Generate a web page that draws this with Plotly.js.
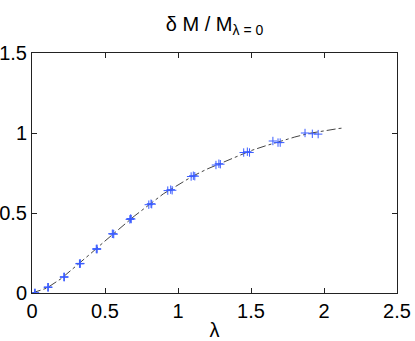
<!DOCTYPE html>
<html>
<head>
<meta charset="utf-8">
<script src="https://cdn.plot.ly/plotly-3.0.1.min.js"></script>
<style>html,body{margin:0;padding:0;background:#fff;}#chart{width:415px;height:341px;}</style>
</head>
<body>
<div id="chart"></div>
<script>
// Fitted curve (dash-dot)
const curveX = [0, 0.1, 0.2, 0.3, 0.4, 0.5, 0.6, 0.7, 0.8, 0.9, 1.0, 1.1, 1.2, 1.3, 1.4, 1.5, 1.6, 1.7, 1.8, 1.9, 2.0, 2.1, 2.14];
const curveY = [0, 0.03, 0.09, 0.165, 0.245, 0.325, 0.405, 0.48, 0.55, 0.62, 0.675, 0.73, 0.775, 0.815, 0.855, 0.89, 0.92, 0.948, 0.975, 0.998, 1.015, 1.028, 1.032];

// Data sets (blue + markers)
const set1X = [0.02, 0.11, 0.22, 0.325, 0.44, 0.55, 0.67, 0.80, 0.93, 1.09, 1.26, 1.45, 1.65, 1.87];
const set1Y = [0.0, 0.036, 0.10, 0.183, 0.275, 0.37, 0.46, 0.552, 0.64, 0.728, 0.80, 0.878, 0.95, 1.0];
const set2X = [0.02, 0.11, 0.22, 0.33, 0.445, 0.555, 0.675, 0.815, 0.95, 1.105, 1.28, 1.475, 1.685, 1.92];
const set2Y = [0.0, 0.036, 0.10, 0.185, 0.277, 0.37, 0.465, 0.558, 0.646, 0.733, 0.808, 0.883, 0.94, 0.995];
const set3X = [0.02, 0.11, 0.22, 0.33, 0.445, 0.56, 0.68, 0.82, 0.96, 1.115, 1.29, 1.49, 1.70, 1.96];
const set3Y = [0.0, 0.036, 0.10, 0.183, 0.273, 0.368, 0.462, 0.555, 0.642, 0.73, 0.805, 0.878, 0.94, 0.993];

const xTicks = [0, 0.5, 1, 1.5, 2, 2.5];
const xTickText = ['0', '0.5', '1', '1.5', '2', '2.5'];
const yTicks = [0, 0.5, 1, 1.5];
const yTickText = ['0', '0.5', '1', '1.5'];

const markerStyle = {symbol: 'cross-thin-open', size: 6, line: {color: '#3a5cff', width: 1}, color: '#3a5cff'};

const traces = [
  {x: curveX, y: curveY, mode: 'lines', line: {color: '#444', width: 1, dash: 'dashdot'}, hoverinfo: 'skip'},
  {x: set1X, y: set1Y, mode: 'markers', marker: markerStyle},
  {x: set2X, y: set2Y, mode: 'markers', marker: markerStyle},
  {x: set3X, y: set3Y, mode: 'markers', marker: markerStyle}
];

const font = 'Liberation Sans, Arial, Helvetica, sans-serif';
const axisCommon = {
  showgrid: false, zeroline: false, showline: true, linecolor: '#222', linewidth: 1,
  mirror: 'ticks', ticks: 'inside', ticklen: 5, tickcolor: '#222', tickwidth: 1,
  tickfont: {family: font, size: 20, color: '#000'}, tickmode: 'array'
};

const layout = {
  width: 415, height: 341,
  margin: {l: 32, r: 18, t: 53, b: 48, pad: 0},
  paper_bgcolor: '#fff', plot_bgcolor: '#fff',
  showlegend: false,
  title: {text: 'δ M / M<sub>λ = 0</sub>', font: {family: font, size: 20, color: '#000'},
          x: 0.517, xanchor: 'center', y: 0.93, yanchor: 'middle', yref: 'container'},
  xaxis: Object.assign({}, axisCommon, {range: [0, 2.5], tickvals: xTicks, ticktext: xTickText,
          title: {text: 'λ', font: {family: font, size: 20, color: '#000'}, standoff: 2}}),
  yaxis: Object.assign({}, axisCommon, {range: [0, 1.5], tickvals: yTicks, ticktext: yTickText})
};

Plotly.newPlot('chart', traces, layout, {staticPlot: true, displayModeBar: false});
</script>
</body>
</html>
